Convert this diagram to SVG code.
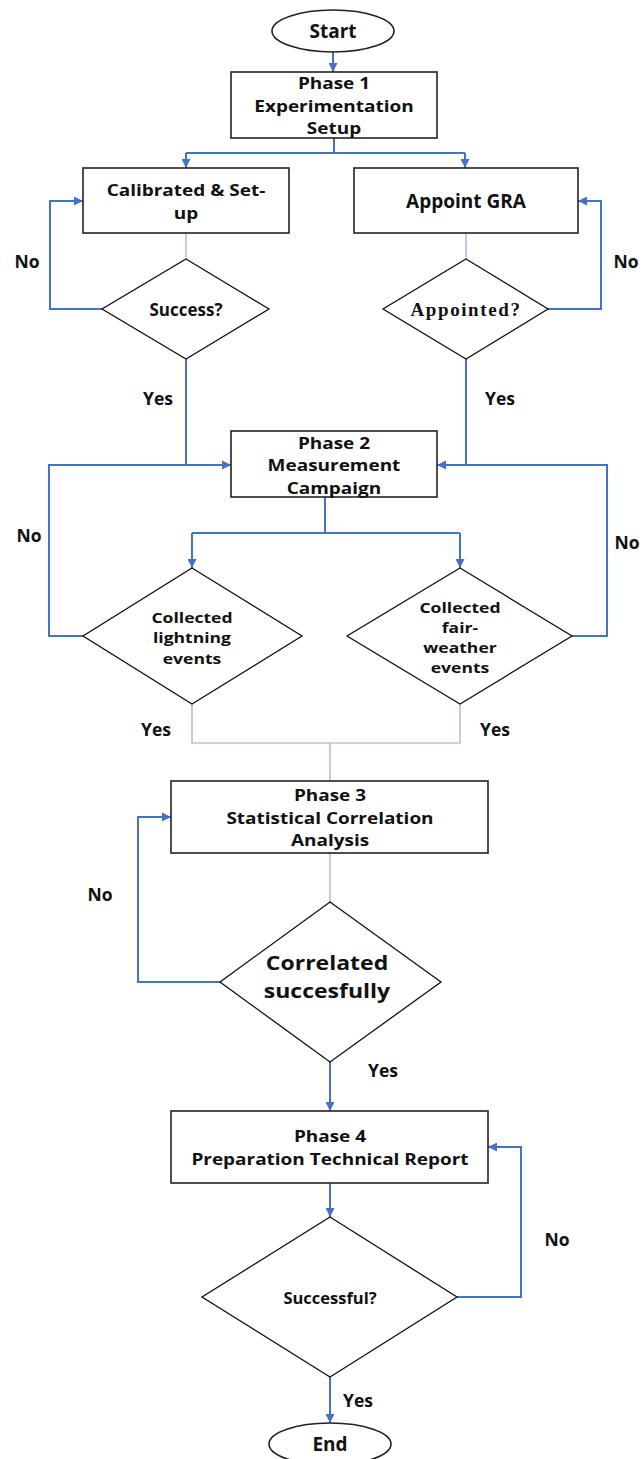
<svg xmlns="http://www.w3.org/2000/svg" width="642" height="1459" viewBox="0 0 642 1459">
<style>
.box{fill:#fff;stroke:#222;stroke-width:1.6}
.dia{fill:#fff;stroke:#111;stroke-width:1.3}
.t{font-family:"Open Sans","Noto Sans",sans-serif;font-weight:700;font-size:19px;fill:#111;text-anchor:middle;dominant-baseline:central}
.m{font-size:16.5px}
.s{font-size:15px}
.lbl{font-family:"Open Sans","Noto Sans",sans-serif;font-weight:700;font-size:17.5px;fill:#111;text-anchor:middle;dominant-baseline:central}
.c{fill:none;stroke:#4472C4;stroke-width:2}
.thin{fill:none;stroke:#8FAADC;stroke-width:1.2}
.arr{fill:none;stroke:#4472C4;stroke-width:2;marker-end:url(#ah)}
</style>
<defs>
<marker id="ah" viewBox="0 0 10 10" refX="10" refY="5" markerWidth="9" markerHeight="9" markerUnits="userSpaceOnUse" orient="auto">
<path d="M0,0 L10,5 L0,10 z" fill="#4472C4"/>
</marker>
</defs>
<rect width="642" height="1459" fill="#fff"/>
<g id="connectors">
<path class="arr" d="M333,52 V72"/>
<path class="c" d="M334,138 V153 M186,153 H465"/>
<path class="arr" d="M186,153 V168"/>
<path class="arr" d="M465,153 V168"/>
<path class="thin" d="M186,233 V259"/>
<path class="thin" d="M466,233 V259"/>
<path class="arr" d="M102,309 H50 V201 H83"/>
<path class="arr" d="M548,309 H601 V201 H578"/>
<path class="arr" d="M186,359 V465 H231"/>
<path class="arr" d="M466,359 V465 H437"/>
<path class="c" d="M83,636 H49 V465 H186"/>
<path class="c" d="M572,636 H607 V465 H466"/>
<path class="c" d="M325,497 V533 M192,533 H460"/>
<path class="arr" d="M192,533 V568"/>
<path class="arr" d="M460,533 V568"/>
<path class="thin" d="M192,704 V743 H460 V704 M330,743 V781"/>
<path class="thin" d="M330,853 V902"/>
<path class="arr" d="M220,982 H138 V817 H171"/>
<path class="arr" d="M330,1062 V1111"/>
<path class="arr" d="M330,1183 V1217"/>
<path class="arr" d="M457,1297 H521 V1147 H488"/>
<path class="arr" d="M330,1377 V1423"/>
</g>
<g id="start">
<ellipse cx="333" cy="31" rx="61" ry="21" class="box"/>
<text class="t" x="333" y="31">Start</text>
</g>
<g id="phase1">
<rect x="231" y="72" width="206" height="66" class="box"/>
<g transform="matrix(1.15,0,0,1,-50.1,0)">
<text class="t m" x="334" y="83">Phase 1</text>
<text class="t m" x="334" y="106">Experimentation</text>
<text class="t m" x="334" y="128">Setup</text>
</g>
</g>
<g id="calibrated">
<rect x="83" y="168" width="206" height="65" class="box"/>
<g transform="matrix(1.15,0,0,1,-27.9,0)">
<text class="t m" x="186" y="190">Calibrated &amp; Set-</text>
<text class="t m" x="186" y="213">up</text>
</g>
</g>
<g id="appoint">
<rect x="354" y="168" width="224" height="65" class="box"/>
<text class="t" x="466" y="201">Appoint GRA</text>
</g>
<g id="success">
<polygon points="186,259 269,309 186,359 102,309" class="dia"/>
<text class="t" x="186" y="309" style="font-size:17px">Success?</text>
</g>
<g id="appointed">
<polygon points="466,259 548,309 466,359 383,309" class="dia"/>
<text x="466" y="309" style="font-family:'Liberation Serif',serif;font-weight:700;font-size:19px;letter-spacing:1.6px;text-anchor:middle;dominant-baseline:central;fill:#111">Appointed?</text>
</g>
<g id="phase2">
<rect x="231" y="431" width="206" height="66" class="box"/>
<g transform="matrix(1.15,0,0,1,-50.1,0)">
<text class="t m" x="334" y="443">Phase 2</text>
<text class="t m" x="334" y="465">Measurement</text>
<text class="t m" x="334" y="488">Campaign</text>
</g>
</g>
<g id="lightning">
<polygon points="192,568 302,636 192,704 83,636" class="dia"/>
<g transform="matrix(1.17,0,0,1,-32.64,0)">
<text class="t s" x="192" y="617">Collected</text>
<text class="t s" x="192" y="637">lightning</text>
<text class="t s" x="192" y="658">events</text>
</g>
</g>
<g id="fairweather">
<polygon points="460,568 572,636 460,704 347,636" class="dia"/>
<g transform="matrix(1.17,0,0,1,-78.2,0)">
<text class="t s" x="460" y="607">Collected</text>
<text class="t s" x="460" y="627">fair-</text>
<text class="t s" x="460" y="647">weather</text>
<text class="t s" x="460" y="667">events</text>
</g>
</g>
<g id="phase3">
<rect x="171" y="781" width="317" height="72" class="box"/>
<g transform="matrix(1.15,0,0,1,-49.5,0)">
<text class="t m" x="330" y="795">Phase 3</text>
<text class="t m" x="330" y="818">Statistical Correlation</text>
<text class="t m" x="330" y="840">Analysis</text>
</g>
</g>
<g id="correlated">
<polygon points="330,902 441,982 330,1062 220,982" class="dia"/>
<g transform="matrix(1.15,0,0,1,-49.05,0)">
<text class="t" x="327" y="962" style="font-size:20px">Correlated</text>
<text class="t" x="327" y="990" style="font-size:20px">succesfully</text>
</g>
</g>
<g id="phase4">
<rect x="171" y="1111" width="317" height="72" class="box"/>
<g transform="matrix(1.15,0,0,1,-49.5,0)">
<text class="t m" x="330" y="1136">Phase 4</text>
<text class="t m" x="330" y="1159">Preparation Technical Report</text>
</g>
</g>
<g id="successful">
<polygon points="330,1217 457,1297 330,1377 202,1297" class="dia"/>
<text class="t" x="330" y="1297" style="font-size:16.5px">Successful?</text>
</g>
<g id="end">
<ellipse cx="330" cy="1444" rx="61" ry="21" class="box"/>
<text class="t" x="330" y="1444">End</text>
</g>
<g id="labels">
<text class="lbl" x="27" y="261">No</text>
<text class="lbl" x="626" y="261">No</text>
<text class="lbl" x="158" y="398">Yes</text>
<text class="lbl" x="500" y="398">Yes</text>
<text class="lbl" x="29" y="535">No</text>
<text class="lbl" x="627" y="542">No</text>
<text class="lbl" x="156" y="729">Yes</text>
<text class="lbl" x="495" y="729">Yes</text>
<text class="lbl" x="100" y="894">No</text>
<text class="lbl" x="383" y="1070">Yes</text>
<text class="lbl" x="557" y="1239">No</text>
<text class="lbl" x="358" y="1400">Yes</text>
</g>
</svg>
